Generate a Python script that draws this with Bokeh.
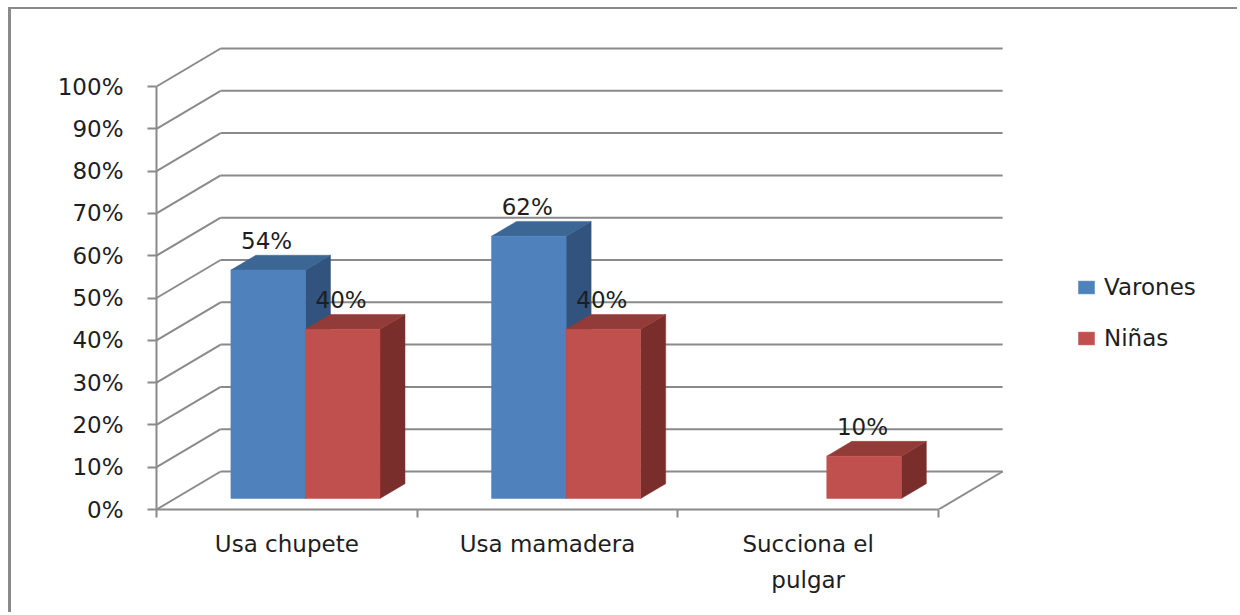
from bokeh.plotting import figure
from bokeh.models import (Range1d, FixedTicker, PrintfTickFormatter, Legend, LegendItem,
                          LinearAxis)
from bokeh.embed import file_html
from bokeh.resources import INLINE
from bokeh.core.properties import value

# ---------------- data ----------------
categories = ["Usa chupete", "Usa mamadera", "Succiona el\npulgar"]
series_names = ["Varones", "Niñas"]
varones = [54, 62, 0]
ninas = [40, 40, 10]
y_ticks = [0, 10, 20, 30, 40, 50, 60, 70, 80, 90, 100]

# ---------------- style / geometry ----------------
FONT = "DejaVu Sans"
FS = "23px"
TXT = "#1e1e1e"
GRID = "#8a8a8a"
colors_front = ["#4F81BD", "#C0504D"]
colors_top = ["#3C6693", "#923B38"]
colors_side = ["#31537D", "#7A2E2C"]

PX_X = 260.67   # pixels per category
PX_Y = 4.23     # pixels per percent
BORDER_L, BORDER_T = 3, 2
W, H = 1229, 605
ML, MT = 145, 31
MB = H - MT - 469
frame_w = W - ML
frame_h = H - MT - MB

DX, DY = 0.246, 8.98    # depth offset of the back wall (data units)
F_DEPTH, T_DEPTH = 0.29, 0.39  # bar front depth and bar thickness (fraction of depth)
BW = 0.286              # bar width in category units
n_cat = len(categories)

p = figure(width=W, height=H, x_range=Range1d(0, frame_w / PX_X),
           y_range=Range1d(0, frame_h / PX_Y), output_backend="svg",
           toolbar_location=None, x_axis_location=None, y_axis_location=None,
           min_border_left=ML, min_border_right=0, min_border_top=MT,
           min_border_bottom=MB)
p.xgrid.visible = False
p.ygrid.visible = False
p.outline_line_color = None
p.background_fill_color = "white"
p.border_fill_color = "white"
p.styles = {"margin-left": "8px", "margin-top": "7px",
            "border-left": f"{BORDER_L}px solid #8a8a8a",
            "border-top": f"{BORDER_T}px solid #8a8a8a"}

# ---------------- axes ----------------
yaxis = LinearAxis(ticker=FixedTicker(ticks=y_ticks), formatter=PrintfTickFormatter(format="%d%%"),
                   bounds=(0, 100))
yaxis.axis_line_color = GRID
yaxis.axis_line_width = 2
yaxis.major_tick_line_color = GRID
yaxis.major_tick_line_width = 2
yaxis.major_tick_out = 9
yaxis.major_tick_in = 0
yaxis.minor_tick_out = 0
yaxis.minor_tick_in = 0
yaxis.major_label_standoff = 24
yaxis.major_label_text_font = FONT
yaxis.major_label_text_font_size = FS
yaxis.major_label_text_color = TXT
p.add_layout(yaxis, "left")

cat_pos = [i + 0.5 for i in range(n_cat)]
bounds_pos = [float(i) for i in range(n_cat + 1)]
xaxis = LinearAxis(ticker=FixedTicker(ticks=cat_pos, minor_ticks=bounds_pos),
                   bounds=(0, n_cat))
xaxis.major_label_overrides = {pos: lab for pos, lab in zip(cat_pos, categories)}
xaxis.axis_line_color = GRID
xaxis.axis_line_width = 2
xaxis.major_tick_out = 0
xaxis.major_tick_in = 0
xaxis.minor_tick_line_color = GRID
xaxis.minor_tick_line_width = 2
xaxis.minor_tick_out = 8
xaxis.minor_tick_in = 0
xaxis.major_label_standoff = 13
xaxis.major_label_text_font = FONT
xaxis.major_label_text_font_size = FS
xaxis.major_label_text_color = TXT
xaxis.major_label_text_line_height = 1.4
p.add_layout(xaxis, "below")

# ---------------- 3D walls ----------------
p.segment(x0=[DX] * len(y_ticks), y0=[t + DY for t in y_ticks],
          x1=[n_cat + DX] * len(y_ticks), y1=[t + DY for t in y_ticks],
          line_color=GRID, line_width=2)
p.segment(x0=[0] * len(y_ticks), y0=y_ticks, x1=[DX] * len(y_ticks),
          y1=[t + DY for t in y_ticks], line_color=GRID, line_width=2)
p.segment(x0=[n_cat], y0=[0], x1=[n_cat + DX], y1=[DY], line_color=GRID, line_width=2)

# ---------------- bars ----------------
fronts = []
lab_x, lab_y, lab_t = [], [], []
for s, vals in enumerate([varones, ninas]):
    left, right, bottom, top = [], [], [], []
    top_xs, top_ys, side_xs, side_ys = [], [], [], []
    for i, v in enumerate(vals):
        if v <= 0:
            continue
        x0 = i + 0.5 - BW + s * BW + F_DEPTH * DX
        x1 = x0 + BW
        yb = F_DEPTH * DY
        yt = v + yb
        ddx, ddy = T_DEPTH * DX, T_DEPTH * DY
        left.append(x0); right.append(x1); bottom.append(yb); top.append(yt)
        top_xs.append([x0, x1, x1 + ddx, x0 + ddx])
        top_ys.append([yt, yt, yt + ddy, yt + ddy])
        side_xs.append([x1, x1 + ddx, x1 + ddx, x1])
        side_ys.append([yb, yb + ddy, yt + ddy, yt])
        lab_x.append((x0 + x1) / 2 - 0.006)
        lab_y.append(yt + ddy + 3.4)
        lab_t.append(f"{v}%")
    p.patches(xs=side_xs, ys=side_ys, fill_color=colors_side[s], line_color=colors_side[s],
              line_width=0.5)
    p.patches(xs=top_xs, ys=top_ys, fill_color=colors_top[s], line_color=colors_top[s],
              line_width=0.5)
    r = p.quad(left=left, right=right, bottom=bottom, top=top, fill_color=colors_front[s],
               line_color=colors_front[s], line_width=0.5)
    fronts.append(r)

p.text(x=lab_x, y=lab_y, text=lab_t, text_align="center", text_baseline="alphabetic",
       text_font=value(FONT), text_font_size=FS, text_color=TXT)

# ---------------- legend ----------------
legend = Legend(items=[LegendItem(label=n, renderers=[r]) for n, r in zip(series_names, fronts)],
                location=(920, 158))
legend.glyph_width = 20
legend.glyph_height = 16
legend.label_standoff = 8
legend.label_height = 26
legend.spacing = 25
legend.padding = 0
legend.margin = 0
legend.border_line_color = None
legend.background_fill_alpha = 0
legend.label_text_font = FONT
legend.label_text_font_size = FS
legend.label_text_color = TXT
p.add_layout(legend)

open("out.html", "w").write(file_html(p, INLINE))
